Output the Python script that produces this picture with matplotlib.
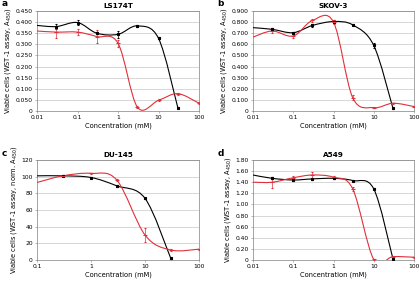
import numpy as np
import matplotlib
matplotlib.use("Agg")
import matplotlib.pyplot as plt
from matplotlib.path import Path
from matplotlib.patches import PathPatch

# ---- data ----
conc_a = [0.01, 0.03, 0.1, 0.3, 1, 3, 10, 30, 100]
ls_black = [0.385, 0.380, 0.398, 0.350, 0.345, 0.383, 0.327, 0.015]
ls_black_err = [0, 0.010, 0.012, 0.005, 0.015, 0.003, 0.005, 0.003]
ls_red = [0.360, 0.355, 0.355, 0.335, 0.305, 0.018, 0.048, 0.078, 0.035]
ls_red_err = [0, 0.025, 0.012, 0.030, 0.015, 0.005, 0.004, 0.004, 0.004]

sk_black = [0.750, 0.735, 0.705, 0.770, 0.805, 0.775, 0.590, 0.025]
sk_black_err = [0, 0.010, 0.010, 0.010, 0.010, 0.005, 0.020, 0.005]
sk_red = [0.665, 0.720, 0.675, 0.815, 0.800, 0.120, 0.030, 0.070, 0.040]
sk_red_err = [0, 0.015, 0.020, 0.015, 0.020, 0.020, 0.005, 0.005, 0.005]

conc_c = [0.1, 0.3, 1, 3, 10, 30, 100]
du_black = [101, 101, 99, 89, 74, 2]
du_black_err = [0, 0.5, 0.5, 1, 1, 0.5]
du_red = [93, 101, 104, 96, 30, 12, 13]
du_red_err = [0, 0.5, 1, 1, 8, 1, 0.5]

a5_black = [1.53, 1.47, 1.44, 1.46, 1.47, 1.43, 1.28, 0.02]
a5_black_err = [0, 0.02, 0.02, 0.02, 0.02, 0.01, 0.01, 0.01]
a5_red = [1.40, 1.40, 1.48, 1.53, 1.49, 1.28, 0.01, 0.06, 0.05]
a5_red_err = [0, 0.10, 0.04, 0.06, 0.03, 0.03, 0.01, 0.01, 0.01]

RED = "#e0303a"
GRID = "#c8c8c8"


def smooth_path(x, y):
    # Excel-like smoothed line: Catmull-Rom segments as cubic Beziers in log-x space
    lx = np.log10(x)
    y = np.asarray(y, float)
    n = len(lx)
    verts = [(x[0], y[0])]
    codes = [Path.MOVETO]
    for i in range(n - 1):
        i0, i3 = max(i - 1, 0), min(i + 2, n - 1)
        c1 = (lx[i] + (lx[i + 1] - lx[i0]) / 6, y[i] + (y[i + 1] - y[i0]) / 6)
        c2 = (lx[i + 1] - (lx[i3] - lx[i]) / 6, y[i + 1] - (y[i3] - y[i]) / 6)
        verts += [(10 ** c1[0], c1[1]), (10 ** c2[0], c2[1]), (x[i + 1], y[i + 1])]
        codes += [Path.CURVE4] * 3
    return Path(verts, codes)


def panel(ax, letter, title, xs, blk, blk_err, red, red_err, ylim, ystep, yfmt, ylabel, xlim):
    xb = xs[:len(blk)]
    for xx, yy, ee, col, mk, ms in [(xb, blk, blk_err, "black", "s", 1.6),
                                    (xs, red, red_err, RED, "_", 2.5)]:
        ax.add_patch(PathPatch(smooth_path(xx, yy), fill=False, edgecolor=col, lw=0.8, zorder=3))
        ax.errorbar(xx[1:], yy[1:], yerr=ee[1:], fmt=mk, color=col, ms=ms, mew=0.8,
                    elinewidth=0.5, capsize=1, capthick=0.5, zorder=4)
    ax.set_xscale("log")
    ax.set_xlim(*xlim)
    ax.set_ylim(*ylim)
    ax.set_yticks(np.arange(0, ylim[1] + ystep / 2, ystep))
    ax.set_yticklabels(["0"] + [yfmt.format(v) for v in np.arange(ystep, ylim[1] + ystep / 2, ystep)])
    ax.xaxis.set_major_formatter(matplotlib.ticker.FuncFormatter(lambda v, p: f"{v:g}"))
    ax.xaxis.set_minor_locator(matplotlib.ticker.NullLocator())
    ax.grid(axis="y", color=GRID, lw=0.5)
    ax.set_axisbelow(True)
    for s in ax.spines.values():
        s.set_color("#808080")
        s.set_linewidth(0.5)
    ax.tick_params(labelsize=4.3, length=1.5, width=0.4, color="#808080", pad=1.5)
    ax.set_title(title, fontsize=5.2, fontweight="bold", pad=2)
    ax.set_xlabel("Concentration (mM)", fontsize=4.8, labelpad=2)
    ax.set_ylabel(ylabel, fontsize=4.8, labelpad=2)
    ax.text(-0.22, 1.07, letter, transform=ax.transAxes, fontsize=6.5, fontweight="bold",
            va="center", ha="left")


fig = plt.figure(figsize=(4.2, 2.82), dpi=100)
W, H = 420, 282


def add_ax(l, t, r, b):
    return fig.add_axes([l / W, 1 - b / H, (r - l) / W, (b - t) / H])


ax_a = add_ax(37, 11, 199, 111)
ax_b = add_ax(253, 11, 414, 111)
ax_c = add_ax(37, 160, 199, 260)
ax_d = add_ax(253, 160, 414, 260)

lab = "Viable cells (WST-1 assay, A$_{450}$)"
panel(ax_a, "a", "LS174T", conc_a, ls_black, ls_black_err, ls_red, ls_red_err,
      (0, 0.45), 0.05, "{:.3f}", lab, (0.01, 100))
panel(ax_b, "b", "SKOV-3", conc_a, sk_black, sk_black_err, sk_red, sk_red_err,
      (0, 0.9), 0.1, "{:.3f}", lab, (0.01, 100))
panel(ax_c, "c", "DU-145", conc_c, du_black, du_black_err, du_red, du_red_err,
      (0, 120), 20, "{:.0f}", "Viable cells (WST-1 assay, norm. A$_{450}$)", (0.1, 100))
panel(ax_d, "d", "A549", conc_a, a5_black, a5_black_err, a5_red, a5_red_err,
      (0, 1.8), 0.2, "{:.2f}", lab, (0.01, 100))

fig.savefig("out.png", dpi=100)
